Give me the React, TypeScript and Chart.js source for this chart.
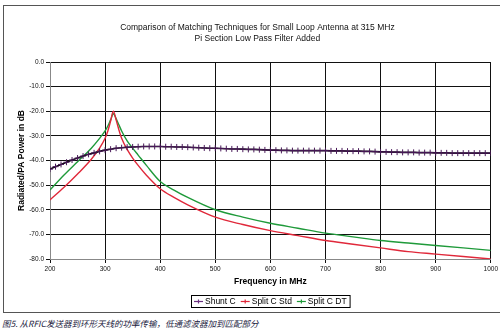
import React, { useEffect, useRef } from "react";
import { Chart, registerables } from "chart.js";

Chart.register(...registerables);

const titleLines = [
  "Comparison of Matching Techniques for Small Loop Antenna at 315 MHz",
  "Pi Section Low Pass Filter Added",
];
const xTitle = "Frequency in MHz";
const yTitle = "Radiated/PA Power in dB";
const caption = "图5. 从RFIC发送器到环形天线的功率传输，低通滤波器加到匹配部分";
const seriesNames = ["Shunt C", "Split C Std", "Split C DT"];

const shuntFreq = [
  200, 210, 220, 230, 240, 250, 260, 270, 280, 290, 300, 310, 320, 330, 340, 350, 360, 370, 380, 390,
  400, 410, 420, 430, 440, 450, 460, 470, 480, 490, 500, 510, 520, 530, 540, 550, 560, 570, 580, 590,
  600, 610, 620, 630, 640, 650, 660, 670, 680, 690, 700, 710, 720, 730, 740, 750, 760, 770, 780, 790,
  800, 810, 820, 830, 840, 850, 860, 870, 880, 890, 900, 910, 920, 930, 940, 950, 960, 970, 980, 990, 1000,
];
const shuntC = [
  -43.5, -42.5, -41.6, -40.7, -39.8, -39.0, -38.2, -37.5, -36.9, -36.3, -35.8, -35.4, -35.0, -34.8, -34.6, -34.5, -34.4, -34.3, -34.3, -34.3,
  -34.3, -34.4, -34.4, -34.5, -34.5, -34.6, -34.7, -34.8, -34.9, -35.0, -35.0, -35.1, -35.2, -35.3, -35.3, -35.4, -35.5, -35.5, -35.6, -35.7,
  -35.8, -35.8, -35.9, -35.9, -36.0, -36.0, -36.0, -36.0, -36.0, -36.0, -36.0, -36.1, -36.1, -36.1, -36.2, -36.2, -36.2, -36.3, -36.3, -36.4,
  -36.5, -36.5, -36.6, -36.6, -36.7, -36.7, -36.7, -36.8, -36.8, -36.8, -36.9, -36.9, -36.9, -37.0, -37.0, -37.0, -37.0, -37.0, -37.0, -37.0, -37.0,
];

const splitFreq = [
  200, 225, 250, 275, 290, 300, 305, 310, 315, 320, 325, 330, 340, 350, 360, 375, 400,
  425, 450, 500, 550, 600, 650, 700, 750, 800, 850, 900, 950, 1000,
];
const splitCStd = [
  -56, -51, -45.5, -39.5, -35, -31, -28, -24, -20, -23.5, -27.5, -31, -35.5, -39, -42, -46, -51.5,
  -55, -58, -63, -66, -68.5, -70.5, -72.5, -74, -75.5, -77, -78, -79, -80,
];
const splitCDT = [
  -52, -46, -40.5, -35, -31, -28, -26, -23.5, -21, -23, -25.5, -28, -32, -35, -37.8, -42, -48.5,
  -52, -55, -60, -63, -65.5, -67.5, -69.5, -71, -72.5, -73.5, -74.5, -75.5, -76.5,
];

const xTicks = [200, 300, 400, 500, 600, 700, 800, 900, 1000];
const yTicks = [0, -10, -20, -30, -40, -50, -60, -70, -80];

const FONT = "'Liberation Sans', Arial, sans-serif";

const titlePlugin = {
  id: "twoLineTitle",
  afterDraw(chart: any) {
    const ctx = chart.ctx;
    ctx.save();
    ctx.fillStyle = "#111";
    ctx.font = `8.5px ${FONT}`;
    ctx.textAlign = "center";
    ctx.textBaseline = "middle";
    const cx = (chart.chartArea.left + chart.chartArea.right) / 2 - 13;
    ctx.fillText(titleLines[0], cx, 28);
    ctx.fillText(titleLines[1], cx, 39);
    ctx.restore();
  },
};

const legendPlugin = {
  id: "boxLegend",
  afterDraw(chart: any) {
    const ctx = chart.ctx;
    ctx.save();
    ctx.font = `8.5px ${FONT}`;
    const markW = 9;
    const gap = 2;
    const itemGap = 5;
    const ds = chart.data.datasets;
    const widths = ds.map((d: any) => markW + gap + ctx.measureText(d.label).width);
    const total = widths.reduce((a: number, b: number) => a + b, 0) + itemGap * (ds.length - 1);
    const padX = 3;
    const cx = (chart.chartArea.left + chart.chartArea.right) / 2;
    const left = Math.round(cx - total / 2 - padX);
    const top = 295;
    const h = 12;
    ctx.strokeStyle = "#000";
    ctx.lineWidth = 1;
    ctx.strokeRect(left + 0.5, top + 0.5, total + padX * 2, h);
    let x = left + padX;
    const y = top + h / 2 + 0.5;
    ds.forEach((d: any, i: number) => {
      ctx.strokeStyle = d.legendColor;
      ctx.lineWidth = 1.2;
      ctx.beginPath();
      ctx.moveTo(x, y);
      ctx.lineTo(x + markW, y);
      ctx.stroke();
      ctx.beginPath();
      ctx.moveTo(x + markW / 2, y - 2);
      ctx.lineTo(x + markW / 2, y + 2);
      ctx.stroke();
      ctx.fillStyle = "#000";
      ctx.textAlign = "left";
      ctx.textBaseline = "middle";
      ctx.fillText(d.label, x + markW + gap, y);
      x += widths[i] + itemGap;
    });
    ctx.restore();
  },
};

export default function App() {
  const ref = useRef<HTMLCanvasElement>(null);
  useEffect(() => {
    document.body.style.margin = "0";
    const chart = new Chart(ref.current!, {
      type: "line",
      data: {
        datasets: [
          {
            label: seriesNames[0],
            data: shuntFreq.map((f, i) => ({ x: f, y: shuntC[i] })),
            borderColor: "#120616",
            borderWidth: 1.6,
            pointStyle: "cross",
            pointRadius: 3,
            pointBorderColor: "#4a1a5a",
            pointBorderWidth: 1,
            legendColor: "#6a3080",
          } as any,
          {
            label: seriesNames[1],
            data: splitFreq.map((f, i) => ({ x: f, y: splitCStd[i] })),
            borderColor: "#e0283a",
            borderWidth: 1.4,
            pointRadius: 0,
            cubicInterpolationMode: "monotone",
            legendColor: "#e0283a",
          } as any,
          {
            label: seriesNames[2],
            data: splitFreq.map((f, i) => ({ x: f, y: splitCDT[i] })),
            borderColor: "#1f9a3a",
            borderWidth: 1.4,
            pointRadius: 0,
            cubicInterpolationMode: "monotone",
            legendColor: "#1f9a3a",
          } as any,
        ],
      },
      options: {
        responsive: false,
        animation: false,
        layout: { padding: { top: 62, right: 9, bottom: 25, left: 0 } },
        plugins: {
          legend: { display: false },
          title: { display: false },
          tooltip: { enabled: false },
        },
        scales: {
          x: {
            type: "linear",
            min: 200,
            max: 1000,
            afterBuildTicks: (s: any) => {
              s.ticks = xTicks.map((v) => ({ value: v }));
            },
            afterFit: (s: any) => {
              s.height = 30;
            },
            ticks: {
              font: { size: 6.5, family: FONT },
              color: "#111",
              padding: 2,
              maxRotation: 0,
              autoSkip: false,
              callback: (v: any) => String(v),
            },
            grid: { color: "#111", lineWidth: 1, tickLength: 4, drawTicks: true },
            border: { display: true, color: "#888" },
            title: {
              display: true,
              text: xTitle,
              font: { size: 8.5, weight: "bold", family: FONT },
              color: "#000",
              padding: { top: 0, bottom: 2 },
            },
          },
          y: {
            min: -80,
            max: 0,
            afterBuildTicks: (s: any) => {
              s.ticks = yTicks.map((v) => ({ value: v }));
            },
            afterFit: (s: any) => {
              s.width = 50;
            },
            ticks: {
              font: { size: 6.5, family: FONT },
              color: "#111",
              padding: 2,
              callback: (v: any) => Number(v).toFixed(1),
            },
            grid: { color: "#111", lineWidth: 1, tickLength: 4 },
            border: { display: true, color: "#888" },
            title: {
              display: true,
              text: yTitle,
              font: { size: 8.5, weight: "bold", family: FONT },
              color: "#000",
              padding: { top: 17, bottom: 0 },
            },
          },
        },
      },
      plugins: [titlePlugin, legendPlugin],
    });
    return () => chart.destroy();
  }, []);

  return (
    <div style={{ position: "relative", width: 500, height: 332, background: "#fff", overflow: "hidden" }}>
      <div
        style={{
          position: "absolute",
          left: 3,
          top: 5,
          width: 510,
          height: 308,
          border: "1px solid #555",
          boxSizing: "border-box",
        }}
      />
      <canvas ref={ref} width={500} height={314} style={{ position: "absolute", left: 0, top: 0 }} />
      <div
        style={{
          position: "absolute",
          left: 2,
          top: 316,
          fontFamily: "'Noto Sans CJK SC', sans-serif",
          fontStyle: "italic",
          fontSize: 8.5,
          lineHeight: "14px",
          color: "#1a1a40",
          whiteSpace: "nowrap",
        }}
      >
        {caption}
      </div>
    </div>
  );
}
